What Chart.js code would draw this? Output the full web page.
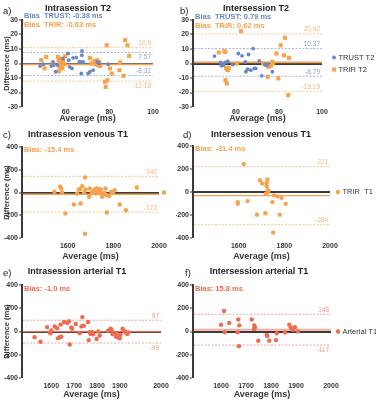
<!DOCTYPE html>
<html>
<head>
<meta charset="utf-8">
<script src="https://cdn.jsdelivr.net/npm/chart.js@4.4.0/dist/chart.umd.min.js"></script>
<style>
  body { margin: 0; background: #fff; width: 376px; height: 400px; position: relative; overflow: hidden; font-family: "Liberation Sans", Arial, sans-serif; }
  canvas { position: absolute; }
  .tag { position: absolute; font-size: 9.5px; line-height: 11px; color: #222; }
  .ttl { position: absolute; font-size: 9px; line-height: 11px; font-weight: bold; color: #222; transform: translateX(-50%); white-space: nowrap; }
</style>
</head>
<body>
<canvas id="pa" width="166" height="118" style="left:0;top:6px"></canvas>
<canvas id="pb" width="200" height="118" style="left:176px;top:6px"></canvas>
<canvas id="pc" width="175" height="124" style="left:0;top:138px"></canvas>
<canvas id="pd" width="200" height="124" style="left:176px;top:138px"></canvas>
<canvas id="pe" width="175" height="124" style="left:0;top:276px"></canvas>
<canvas id="pf" width="200" height="124" style="left:176px;top:276px"></canvas>

<div class="tag" style="left:3px;top:5px">a)</div>
<div class="ttl" style="left:78px;top:3px">Intrasession T2</div>
<div class="tag" style="left:180px;top:5px">b)</div>
<div class="ttl" style="left:256px;top:3px">Intersession T2</div>
<div class="tag" style="left:3px;top:129px">c)</div>
<div class="ttl" style="left:78px;top:129px">Intrasession venous T1</div>
<div class="tag" style="left:183px;top:129px">d)</div>
<div class="ttl" style="left:261px;top:129px">Intersession venous T1</div>
<div class="tag" style="left:3px;top:267px">e)</div>
<div class="ttl" style="left:77px;top:266px">Intrasession arterial T1</div>
<div class="tag" style="left:185px;top:267px">f)</div>
<div class="ttl" style="left:259px;top:266px">Intersession arterial T1</div>

<script>
// ---- data ----
// a) intrasession T2
const aTrustX = [48.3, 49.8, 53.4, 54.2, 54.6, 55.4, 56.2, 58.8, 61.1, 61.4, 61.8, 62.9, 63.4, 64.9, 66.2, 66.8, 67.2, 67.4, 67.5, 68.0, 70.3, 71.1, 72.6, 74.5, 75.4, 79.5];
const aTrustY = [-1.8, -0.5, -1.8, 1.1, -1.1, -5.7, -1.1, 3.4, 6.9, 2.3, -2.3, -3.4, 3.9, 4.1, 1.1, 1.1, -6.9, 5.7, 8.7, 1.1, -6.9, -5.7, -4.6, 1.1, 0, -0.5];
const aTrirX = [48.8, 50.3, 51.1, 54.2, 56.5, 56.8, 57.2, 57.2, 57.7, 58.0, 58.3, 58.8, 58.5, 56.9, 59.8, 59.5, 71.1, 71.8, 72.9, 73.4, 73.8, 74.2, 74.5, 74.9, 75.4, 75.7, 78.8, 78.0, 78.3, 79.1, 80.3, 81.1, 84.9, 84.6, 86.5, 87.2, 88.3, 89.1];
const aTrirY = [2.3, -3.4, 4.6, -0.5, 4.6, 2.3, 1.1, -2.3, 3.4, 0, -1.1, 2.3, -3.4, -5.3, 5.1, -0.5, 3.9, 0, 1.1, 1.8, -0.7, 0.7, 2.3, -1.1, 1.1, -1.8, 12.6, -12.6, -16.1, -11.5, -3.4, -6.9, 0.7, -4.6, -8.5, 16.1, 12.6, 5.3];
const aTrustBias = -0.38, aTrirBias = -0.63;
const aTrustLimits = [7.57, -8.32], aTrirLimits = [10.9, -12.18];

// b) intersession T2
const bTrustX = [50.0, 52.8, 53.1, 53.4, 54.2, 55.0, 56.2, 58.5, 61.1, 62.8, 64.3, 64.6, 65.4, 65.8, 66.9, 68.0, 68.5, 69.2, 70.8, 72.0, 73.5, 74.2, 74.6, 76.9];
const bTrustY = [5.1, 0.7, -1.1, -1.6, -1.1, 0.7, 1.6, -0.7, 6.9, 5.3, 1.1, -5.7, -3.9, 6.2, -4.6, 10.3, -3.4, -3.4, 1.8, -8.5, -0.7, -1.1, -0.5, -5.7];
const bTrirX = [52.0, 54.6, 55.1, 55.4, 55.8, 56.2, 56.6, 55.1, 55.7, 60.5, 62.3, 72.6, 73.5, 74.2, 74.8, 75.1, 76.2, 76.9, 77.2, 78.8, 79.7, 80.8, 82.3, 82.8, 84.6, 84.3];
const bTrirY = [7.6, 8.5, 8.0, -3.0, -3.9, -4.6, -3.0, -11.5, -13.8, 0, 22.3, 0, -0.7, -1.1, -9.2, -2.3, -1.6, 1.1, 0, 6.9, -10.3, 12.6, 5.7, 17.7, 3.9, -21.8];
const bTrustBias = 0.79, bTrirBias = 0.62;
const bTrustLimits = [10.37, -8.79], bTrirLimits = [20.42, -19.19];

// c) intrasession venous T1
const cX = [1542, 1567, 1572, 1575, 1590, 1627, 1642, 1649, 1654, 1657, 1664, 1672, 1676, 1679, 1676, 1694, 1697, 1706, 1712, 1716, 1721, 1724, 1728, 1736, 1739, 1743, 1746, 1751, 1754, 1761, 1766, 1769, 1772, 1781, 1791, 1799, 1806, 1828, 1855, 1903];
const cY = [6, 50, 35, 0, -185, -106, -9, 26, 29, -97, 56, 0, 132, 26, -362, -38, 35, 0, 6, 21, 29, -9, 35, 12, 29, -3, 26, -38, -15, -3, 35, -24, -176, -32, 6, -3, 21, -106, -156, 44];
const cBias = -15.4, cLimits = [142, -173];

// d) intersession venous T1
const dX = [1622, 1596, 1596, 1639, 1680, 1693, 1703, 1717, 1719, 1722, 1723, 1726, 1728, 1730, 1748, 1751, 1755, 1770, 1780, 1788, 1806];
const dY = [244, -88, -103, -79, -197, 103, 74, -185, -15, 79, 50, 109, 15, 0, -88, -353, -29, -38, -197, -50, -103];
const dBias = -31.4, dLimits = [221, -284];

// e) intrasession arterial T1
const eX = [1527, 1553, 1582, 1596, 1600, 1615, 1625, 1629, 1637, 1641, 1644, 1656, 1670, 1678, 1681, 1688, 1691, 1707, 1724, 1732, 1736, 1742, 1761, 1764, 1768, 1772, 1779, 1783, 1798, 1805, 1812, 1849, 1859, 1864, 1868, 1883, 1886, 1893, 1900, 1903, 1912, 1922, 1926, 1932, 1937];
const eY = [-50, -88, 38, -15, 9, 44, 29, -59, -50, 59, -44, 82, 74, 88, -112, 35, 24, 65, -15, 44, 124, 50, 82, -74, -6, -21, -6, -24, -65, 0, -35, 6, 24, 15, -21, -44, -15, -50, -59, -29, 24, 0, -6, -21, -9];
const eBias = -1.0, eLimits = [97, -99];

// f) intersession arterial T1
const fX = [1600, 1612, 1615, 1633, 1667, 1669, 1673, 1672, 1723, 1733, 1736, 1732, 1749, 1783, 1785, 1793, 1820, 1823, 1856, 1873, 1879, 1887, 1896, 1907];
const fY = [59, 176, -6, 74, -6, 103, 53, -126, 103, 53, 35, 21, -79, -29, -38, -79, -74, -15, -9, 59, 35, 15, 38, 0];
const fBias = 15.8, fLimits = [148, -117];

// axis ticks
const t2XTicks = [60, 80, 100];
const t2YTicks = [-30, -20, -10, 0, 10, 20, 30];
const venXTicks = [1600, 1800, 2000];
const t1YTicks = [-400, -200, 0, 200, 400];
const artXTicks = [1600, 1700, 1800, 1900];
const artXLabels = ['1600', '1700', '1800', '1900', '2000'];

// ---- styling ----
const FONT = '"Liberation Sans", Arial, sans-serif';
const INK = '#363636';
const BLUE = '#6b86c6', BLUE_L = '#a4b4de', BLUE_T = '#8e9fd1';
const ORANGE = '#f7a24c', ORANGE_L = '#f9c690', ORANGE_T = '#f6b57c';
const RED = '#ef6a4e', RED_L = '#f3a292', RED_T = '#f09a88';

function pts(xs, ys) {
    return xs.map((x, i) => ({ x: x, y: ys[i] }));
}

// Bland-Altman bias / limit lines with their labels
const baLines = {
    id: 'baLines',
    beforeDatasetsDraw(chart, args, opts) {
        const { ctx, chartArea: a, scales: { y } } = chart;
        ctx.save();
        (opts.lines || []).forEach(l => {
            const py = y.getPixelForValue(l.value);
            ctx.strokeStyle = l.color;
            ctx.lineWidth = l.width || 1;
            ctx.setLineDash(l.dash || []);
            ctx.beginPath();
            ctx.moveTo(a.left + 1, py);
            ctx.lineTo(a.right, py);
            ctx.stroke();
            if (l.text) {
                ctx.setLineDash([]);
                ctx.font = '6.5px ' + FONT;
                ctx.fillStyle = l.textColor;
                ctx.textAlign = 'right';
                ctx.textBaseline = l.place === 'below' ? 'top' : 'bottom';
                ctx.fillText(l.text, a.right - 2, l.place === 'below' ? py + 1.5 : py - 1);
            }
        });
        ctx.restore();
    },
    afterDatasetsDraw(chart, args, opts) {
        const { ctx, chartArea: a } = chart;
        ctx.save();
        ctx.font = 'bold 7.5px ' + FONT;
        ctx.textAlign = 'left';
        ctx.textBaseline = 'middle';
        (opts.notes || []).forEach((n, i) => {
            ctx.fillStyle = n.color;
            ctx.fillText(n.text, a.left + 2, a.top + opts.noteY + i * 9);
        });
        ctx.restore();
    }
};

// small legend to the right of the plot
const sideLegend = {
    id: 'sideLegend',
    afterDraw(chart, args, opts) {
        if (!opts.show) return;
        const { ctx, chartArea: a } = chart;
        const sets = chart.data.datasets;
        const cy = (a.top + a.bottom) / 2;
        ctx.save();
        ctx.font = '7.5px ' + FONT;
        ctx.textBaseline = 'middle';
        sets.forEach((ds, i) => {
            const x = a.right + opts.dx;
            const yy = cy + (i - (sets.length - 1) / 2) * 12;
            ctx.fillStyle = ds.backgroundColor;
            Chart.helpers.drawPoint(ctx, { pointStyle: ds.pointStyle, radius: ds.pointRadius, rotation: 0, borderWidth: 0 }, x, yy);
            ctx.fillStyle = INK;
            ctx.fillText(ds.label, x + 4.5, yy);
        });
        ctx.restore();
    }
};

function makePanel(id, cfg) {
    const ctx = document.getElementById(id).getContext('2d');
    return new Chart(ctx, {
        type: 'scatter',
        data: {
            datasets: cfg.sets.map(s => ({
                label: s.label,
                data: pts(s.x, s.y),
                pointStyle: s.style || 'circle',
                pointRadius: s.r,
                backgroundColor: s.color,
                borderWidth: 0,
                clip: 6
            }))
        },
        options: {
            responsive: false,
            animation: false,
            devicePixelRatio: 1,
            layout: { padding: { left: 0, top: cfg.padTop, right: cfg.padRight, bottom: 0 } },
            plugins: {
                legend: { display: false },
                tooltip: { enabled: false },
                baLines: { lines: cfg.lines, notes: cfg.notes, noteY: cfg.noteY },
                sideLegend: { show: cfg.legend, dx: cfg.legendDx }
            },
            scales: {
                x: {
                    type: 'linear',
                    min: cfg.xMin,
                    max: cfg.xMax,
                    afterBuildTicks: s => { s.ticks = cfg.xTicks.map(v => ({ value: v })); },
                    ticks: {
                        autoSkip: false,
                        maxRotation: 0,
                        padding: cfg.xPad,
                        color: INK,
                        font: { family: FONT, size: 7, weight: 'bold' },
                        callback: (v, i) => cfg.xLabels ? cfg.xLabels[i] : v
                    },
                    grid: { display: false, drawTicks: false },
                    border: { display: false },
                    title: { display: true, text: 'Average (ms)', color: INK, font: { family: FONT, size: 9, weight: 'bold' }, padding: 0 },
                    afterFit: s => { s.height = cfg.xH; }
                },
                y: {
                    min: cfg.yMin,
                    max: cfg.yMax,
                    afterBuildTicks: s => { s.ticks = cfg.yTicks.map(v => ({ value: v })); },
                    ticks: { padding: 1, color: INK, font: { family: FONT, size: 7, weight: 'bold' } },
                    grid: {
                        color: c => (c.tick && c.tick.value === 0) ? '#3a3a3a' : 'rgba(0,0,0,0)',
                        lineWidth: c => (c.tick && c.tick.value === 0) ? 2 : 0,
                        tickColor: '#3a3a3a',
                        tickWidth: 1.2,
                        tickLength: 3
                    },
                    border: { display: true, color: '#3a3a3a', width: 2 },
                    title: { display: cfg.yTitle, text: 'Difference (ms)', color: INK, font: { family: FONT, size: 7.5, weight: 'bold' }, padding: { top: 2, bottom: 0 } },
                    afterFit: s => { s.width = cfg.yW; }
                }
            }
        },
        plugins: [baLines, sideLegend]
    });
}

function limitLines(vals, lineColor, textColor, places) {
    return vals.map((v, i) => ({ value: v, color: lineColor, dash: [2, 1.5], width: 1, text: String(v), textColor: textColor, place: places[i] }));
}

// a)
makePanel('pa', {
    sets: [
        { label: 'TRUST T2', x: aTrustX, y: aTrustY, color: BLUE, r: 1.9 },
        { label: 'TRIR T2', x: aTrirX, y: aTrirY, color: ORANGE, r: 2.9, style: 'rect' }
    ],
    lines: [
        { value: aTrustBias, color: BLUE, width: 1.2 },
        { value: aTrirBias, color: ORANGE, width: 1.5 },
        ...limitLines(aTrustLimits, BLUE_L, BLUE_T, ['below', 'above']),
        ...limitLines(aTrirLimits, ORANGE_L, ORANGE_T, ['above', 'below'])
    ],
    notes: [{ text: 'Bias  TRUST: ' + aTrustBias + ' ms', color: BLUE }, { text: 'Bias  TRIR: ' + aTrirBias + ' ms', color: ORANGE }],
    noteY: -4.5,
    xMin: 40, xMax: 100, xTicks: t2XTicks, yMin: -30, yMax: 30, yTicks: t2YTicks,
    yW: 22, xH: 17, xPad: 1, padTop: 14, padRight: 13, yTitle: true, legend: false
});

// b)
makePanel('pb', {
    sets: [
        { label: 'TRUST T2', x: bTrustX, y: bTrustY, color: BLUE, r: 1.9 },
        { label: 'TRIR T2', x: bTrirX, y: bTrirY, color: ORANGE, r: 2.9, style: 'rect' }
    ],
    lines: [
        { value: bTrustBias, color: BLUE, width: 1.2 },
        { value: bTrirBias, color: ORANGE, width: 1.5 },
        ...limitLines(bTrustLimits, BLUE_L, BLUE_T, ['above', 'above']),
        ...limitLines(bTrirLimits, ORANGE_L, ORANGE_T, ['above', 'above'])
    ],
    notes: [{ text: 'Bias  TRUST: ' + bTrustBias + ' ms', color: BLUE }, { text: 'Bias  TRIR: ' + bTrirBias + ' ms', color: ORANGE }],
    noteY: -3,
    xMin: 40, xMax: 100, xTicks: t2XTicks, yMin: -30, yMax: 30, yTicks: t2YTicks,
    yW: 17, xH: 17, xPad: 1, padTop: 14, padRight: 54, yTitle: false, legend: true, legendDx: 12
});

// c)
makePanel('pc', {
    sets: [{ label: '', x: cX, y: cY, color: ORANGE, r: 2.2 }],
    lines: [
        { value: cBias, color: ORANGE, width: 1.3 },
        ...limitLines(cLimits, ORANGE_L, ORANGE_T, ['above', 'above'])
    ],
    notes: [{ text: 'Bias: ' + cBias + ' ms', color: ORANGE }],
    noteY: 3,
    xMin: 1400, xMax: 2000, xTicks: venXTicks, yMin: -400, yMax: 400, yTicks: t1YTicks,
    yW: 22, xH: 24, xPad: 4, padTop: 9, padRight: 16, yTitle: true, legend: true, legendDx: 5
});

// d)
makePanel('pd', {
    sets: [{ label: 'TRIR  T1', x: dX, y: dY, color: ORANGE, r: 2.2 }],
    lines: [
        { value: dBias, color: ORANGE, width: 1.3 },
        ...limitLines(dLimits, ORANGE_L, ORANGE_T, ['above', 'above'])
    ],
    notes: [{ text: 'Bias: ' + dBias + ' ms', color: ORANGE }],
    noteY: 3,
    xMin: 1400, xMax: 2000, xTicks: venXTicks, yMin: -400, yMax: 400, yTicks: t1YTicks,
    yW: 17, xH: 24, xPad: 4, padTop: 8, padRight: 46, yTitle: false, legend: true, legendDx: 8
});

// e)
makePanel('pe', {
    sets: [{ label: 'Arterial T1', x: eX, y: eY, color: RED, r: 2.2 }],
    lines: [
        { value: eBias, color: RED, width: 1.3 },
        ...limitLines(eLimits, RED_L, RED_T, ['above', 'below'])
    ],
    notes: [{ text: 'Bias: ' + eBias.toFixed(1) + ' ms', color: RED }],
    noteY: 4,
    xMin: 1472, xMax: 2080, xTicks: [...artXTicks, 2080], xLabels: artXLabels,
    yMin: -400, yMax: 400, yTicks: t1YTicks,
    yW: 22, xH: 22, xPad: 4, padTop: 9, padRight: 14, yTitle: true, legend: false
});

// f)
makePanel('pf', {
    sets: [{ label: 'Arterial T1', x: fX, y: fY, color: RED, r: 2.2 }],
    lines: [
        { value: fBias, color: 'rgba(239,106,78,0.55)', width: 2 },
        ...limitLines(fLimits, RED_L, RED_T, ['above', 'below'])
    ],
    notes: [{ text: 'Bias: ' + fBias + ' ms', color: RED }],
    noteY: 4,
    xMin: 1488, xMax: 2040, xTicks: [...artXTicks, 2040], xLabels: artXLabels,
    yMin: -400, yMax: 400, yTicks: t1YTicks,
    yW: 17, xH: 22, xPad: 4, padTop: 9, padRight: 45, yTitle: false, legend: true, legendDx: 7
});
</script>
</body>
</html>
